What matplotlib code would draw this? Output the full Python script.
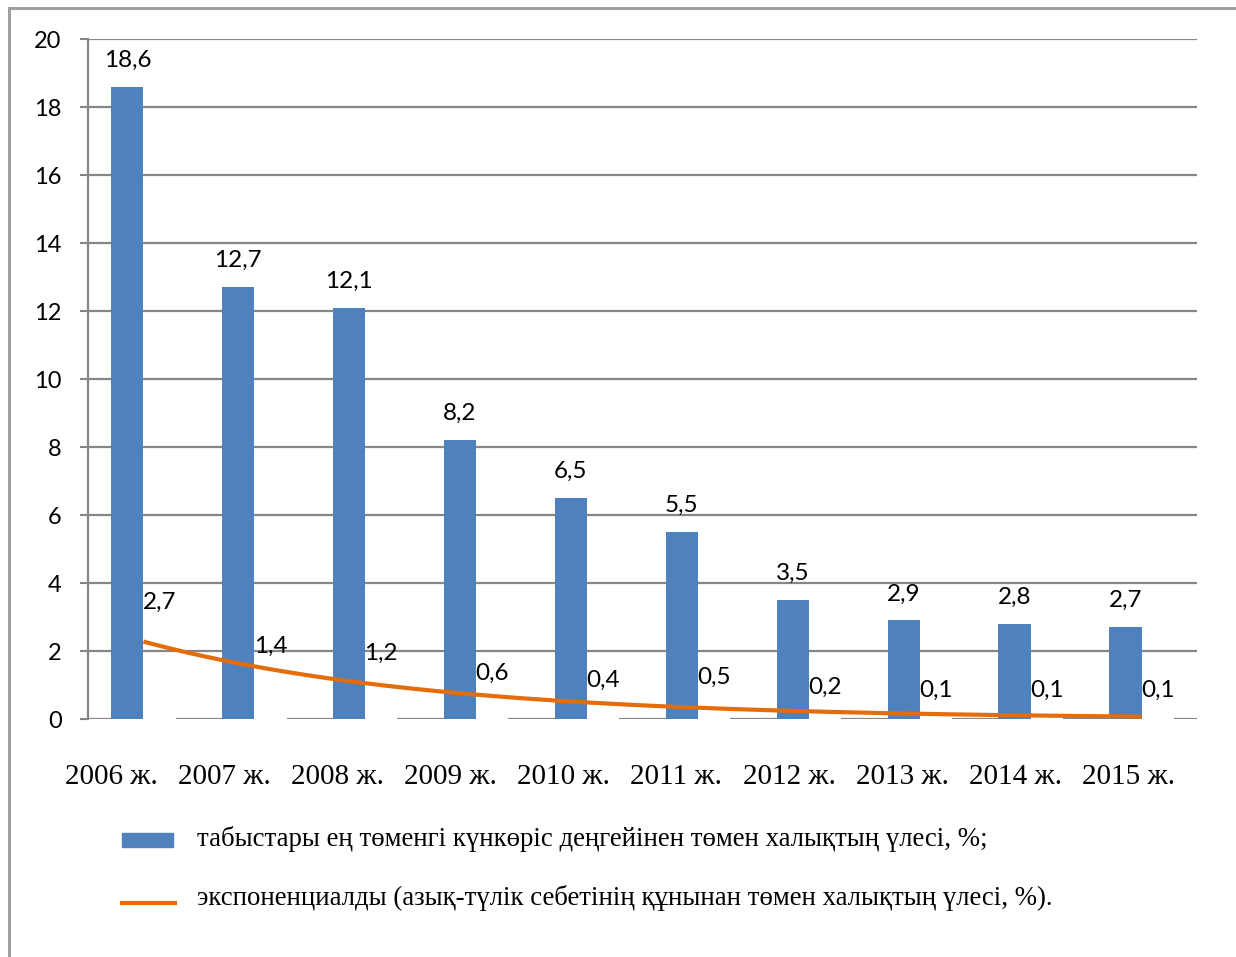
import numpy as np
import matplotlib.pyplot as plt
from matplotlib.lines import Line2D
from matplotlib.patches import Rectangle

# data
years = ["2006 ж.", "2007 ж.", "2008 ж.", "2009 ж.", "2010 ж.",
         "2011 ж.", "2012 ж.", "2013 ж.", "2014 ж.", "2015 ж."]
income_share = [18.6, 12.7, 12.1, 8.2, 6.5, 5.5, 3.5, 2.9, 2.8, 2.7]
food_share = [2.7, 1.4, 1.2, 0.6, 0.4, 0.5, 0.2, 0.1, 0.1, 0.1]
legend_bar = "табыстары ең төменгі күнкөріс деңгейінен төмен халықтың үлесі, %;"
legend_line = "экспоненциалды (азық-түлік себетінің құнынан төмен халықтың үлесі, %)."

blue = "#4F81BD"
orange = "#E46C0A"
grid = "#868686"
sans = ["Lato", "DejaVu Sans"]
serif = ["Liberation Serif", "DejaVu Serif"]

fig = plt.figure(figsize=(12.36, 9.57), dpi=100)
ax = fig.add_axes([88/1236, 1-719/957, 1109/1236, 680/957])

x = np.arange(len(years))
w = 0.29

# gridlines (zero line below the hidden second series)
for v in range(2, 21, 2):
    ax.axhline(v, color=grid, lw=1.6, zorder=3)
ax.axhline(0, color=grid, lw=1.6, zorder=1)

ax.bar(x - w/2, income_share, w, color=blue, zorder=4)
ax.bar(x + w/2, food_share, w, color="white", zorder=2)

for xi, v in zip(x, income_share):
    ax.annotate(f"{v:.1f}".replace(".", ","), (xi - w/2, v), xytext=(0, 19),
                textcoords="offset points", ha="center", va="center",
                fontsize=17.5, family=sans, zorder=6)
for xi, v in zip(x, food_share):
    ax.annotate(f"{v:.1f}".replace(".", ","), (xi + w/2, v), xytext=(0, 18),
                textcoords="offset points", ha="center", va="center",
                fontsize=17.5, family=sans, zorder=6)

# exponential trendline fitted to the second series
b, a = np.polyfit(x + 1, np.log(food_share), 1)
xs = np.linspace(0, len(years) - 1, 200)
ax.plot(xs, np.exp(a + b * (xs + 1)), color=orange, lw=3, zorder=5,
        solid_capstyle="butt")

ax.set_xlim(-0.5, len(years) - 0.5)
ax.set_ylim(0, 20)
ax.set_yticks(range(0, 21, 2))
ax.tick_params(axis="y", length=6, width=1.5, color=grid, pad=13, labelsize=17)
for t in ax.get_yticklabels():
    t.set_family(sans)
ax.set_xticks([])
for s in ["top", "right", "bottom"]:
    ax.spines[s].set_visible(False)
ax.spines["left"].set_color(grid)
ax.spines["left"].set_linewidth(1.6)

# year labels (typed under the chart, slightly off the category centres)
for i, lab in enumerate(years):
    ax.text(i - 0.293 + 0.0198 * i, -1.7, lab, ha="center", va="center",
            fontsize=21, family=serif, clip_on=False)

# legend drawn by hand
fig.add_artist(Rectangle((122/1236, 1-847/957), 51/1236, 14/957,
                         transform=fig.transFigure, color=blue))
fig.text(197/1236, 1-839/957, legend_bar, ha="left", va="center",
         fontsize=19.3, family=serif)
fig.add_artist(Line2D([122/1236, 175/1236], [1-903/957, 1-903/957],
                      transform=fig.transFigure, color=orange, lw=3))
fig.text(197/1236, 1-898/957, legend_line, ha="left", va="center",
         fontsize=19.3, family=serif)

# outer frame (left and top only)
fig.add_artist(Line2D([9/1236, 9/1236], [0, 1-8/957],
                      transform=fig.transFigure, color="#A0A0A0", lw=2.2))
fig.add_artist(Line2D([9/1236, 1], [1-8/957, 1-8/957],
                      transform=fig.transFigure, color="#A0A0A0", lw=2.2))

fig.savefig("out.png", dpi=100)
